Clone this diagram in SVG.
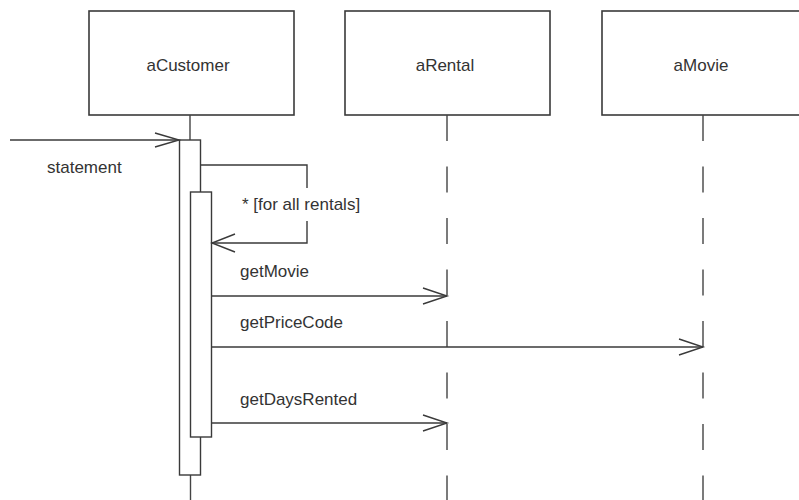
<svg xmlns="http://www.w3.org/2000/svg" width="799" height="500" viewBox="0 0 799 500">
<style>
.box{fill:#fff;stroke:#3a3a3a;stroke-width:1.6}
.act{fill:#fff;stroke:#3a3a3a;stroke-width:1.4}
.life{stroke:#444;stroke-width:1.4;fill:none}
.dash{stroke:#444;stroke-width:1.4;stroke-dasharray:26 25.5;fill:none}
.msg{stroke:#3a3a3a;stroke-width:1.4;fill:none}
.head{stroke:#3a3a3a;stroke-width:1.4;fill:none}
text{font-family:"Liberation Sans",Arial,sans-serif;font-size:17px;fill:#333}
</style>
<rect width="799" height="500" fill="#fff"/>
<g id="aCustomer">
<rect class="box" x="89" y="11" width="205" height="104"/>
<text x="188" y="71" text-anchor="middle">aCustomer</text>
<line class="life" x1="190" y1="115" x2="190" y2="140"/>
<line class="life" x1="190.5" y1="475" x2="190.5" y2="500"/>
<rect class="act" x="179.5" y="140" width="21" height="335"/>
<rect class="act" x="190.5" y="192" width="21" height="245"/>
</g>
<g id="aRental">
<rect class="box" x="345" y="11" width="205" height="104"/>
<text x="445" y="71" text-anchor="middle">aRental</text>
<line class="dash" x1="447" y1="115" x2="447" y2="500"/>
</g>
<g id="aMovie">
<rect class="box" x="602" y="11" width="210" height="104"/>
<text x="701" y="71" text-anchor="middle">aMovie</text>
<line class="dash" x1="703" y1="115" x2="703" y2="500"/>
</g>
<g id="connectors">
<line class="msg" x1="10" y1="140" x2="179" y2="140"/>
<polyline class="head" points="155,133 179,140 155,147"/>
<text x="47" y="173">statement</text>
<polyline class="msg" points="200.5,165 307,165 307,188"/>
<polyline class="msg" points="307,221 307,243 212,243"/>
<polyline class="head" points="235,234 212,243 235,252"/>
<text x="242" y="210">* [for all rentals]</text>
<line class="msg" x1="212" y1="296" x2="447" y2="296"/>
<polyline class="head" points="423,288 447,296 423,304"/>
<text x="240" y="277">getMovie</text>
<line class="msg" x1="212" y1="347" x2="703" y2="347"/>
<polyline class="head" points="679,339 703,347 679,355"/>
<text x="240" y="328">getPriceCode</text>
<line class="msg" x1="212" y1="423" x2="447" y2="423"/>
<polyline class="head" points="423,415 447,423 423,431"/>
<text x="240" y="405">getDaysRented</text>
</g>
</svg>
